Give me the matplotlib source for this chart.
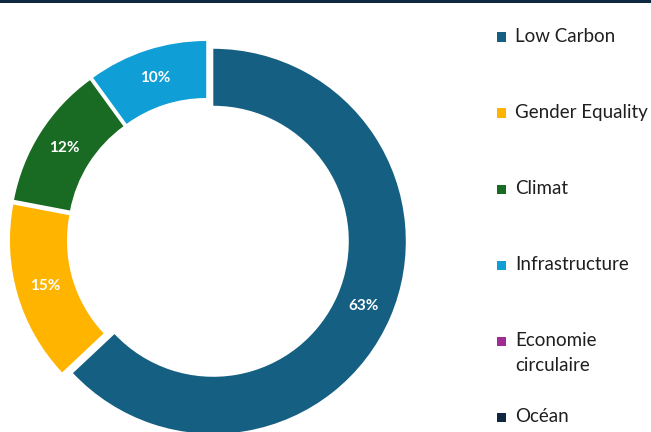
import matplotlib.pyplot as plt
from matplotlib.patches import Rectangle

# Share of financing by theme (%)
themes = ["Low Carbon", "Gender Equality", "Climat", "Infrastructure",
          "Economie\ncirculaire", "Océan"]
shares = [63, 15, 12, 10, 0, 0]
colors = ["#156082", "#FFB400", "#196B24", "#0F9ED5", "#A02B93", "#0E2841"]

plt.rcParams['font.family'] = ['Lato', 'DejaVu Sans']

W, H = 651, 432
fig = plt.figure(figsize=(W / 100, H / 100), dpi=100)

# donut centre at (208, 239) px from top-left, outer radius ~192 px
cx, cy, lim = 208, H - 239, 1.2
size = 192.5 * 2 * lim
ax = fig.add_axes([(cx - size / 2) / W, (cy - size / 2) / H, size / W, size / H])

ring = 57 / 192.5
wedges, texts, autotexts = ax.pie(
    shares, colors=colors, startangle=90, counterclock=False,
    explode=[0.03] * len(shares),
    wedgeprops=dict(width=ring, edgecolor='none', linewidth=0),
    autopct=lambda p: f'{p:.0f}%' if p > 0 else '',
    pctdistance=1 - ring / 2,
    textprops=dict(color='white', fontsize=11, fontweight='bold'))
ax.set_xlim(-lim, lim)
ax.set_ylim(-lim, lim)
ax.axis('off')

# dark rule along the top edge
fig.add_artist(Rectangle((0, 1 - 3 / H), 1, 3 / H, transform=fig.transFigure,
                         color="#0E2841", lw=0))

# legend, one row every 76 px
for i, (name, col) in enumerate(zip(themes, colors)):
    y = 37 + i * 76
    fig.add_artist(Rectangle((497 / W, 1 - (y + 4.5) / H), 9 / W, 9 / H,
                             transform=fig.transFigure, color=col, lw=0))
    fig.text(515 / W, 1 - (y - 9) / H, name, fontsize=13.5, color="#1F1F1F",
             va='top', ha='left', linespacing=1.55)

fig.savefig("out.png", dpi=100)
